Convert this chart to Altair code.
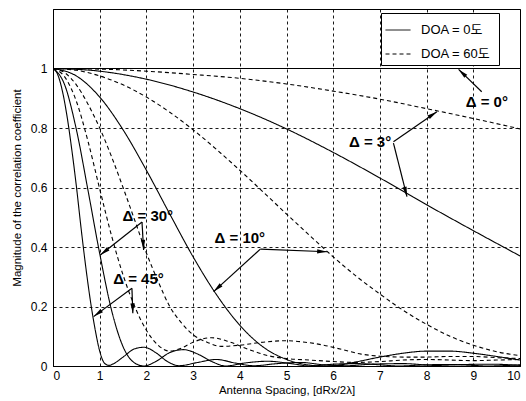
import math
import altair as alt
import pandas as pd

W, H = 467, 357
XMAX, YMAX = 10.0, 1.2
FONT = "Liberation Sans, Noto Sans CJK KR"

LAB0 = "DOA = 0도"
LAB60 = "DOA = 60도"

# ---- curves ----
d0_x = [0, 10]
d0_y = [1.0, 1.0]

d3_doa0_x = [0, 1, 2, 3, 4, 5, 6, 7, 8, 9, 10]
d3_doa0_y = [1.0, 0.991, 0.964, 0.921, 0.865, 0.797, 0.718, 0.632, 0.542, 0.455, 0.37]
d3_doa60_x = [0, 1, 2, 3, 4, 5, 6, 7, 8, 9, 10]
d3_doa60_y = [1.0, 0.998, 0.991, 0.98, 0.967, 0.948, 0.924, 0.897, 0.865, 0.832, 0.797]

d10_doa0_x = [0, 0.5, 1, 1.5, 2, 2.5, 3, 3.5, 4, 4.5, 5, 5.5, 5.8, 6.2, 6.5, 7, 7.5, 8, 8.5, 9, 9.5, 10]
d10_doa0_y = [1.0, 0.975, 0.904, 0.794, 0.658, 0.511, 0.367, 0.240, 0.137, 0.064, 0.022, 0.003, 0.0,
              0.005, 0.014, 0.03, 0.043, 0.05, 0.05, 0.043, 0.032, 0.02]
d10_doa60_x = [0, 0.5, 1, 1.5, 2, 2.5, 3, 3.5, 4, 4.5, 5, 5.5, 6, 6.5, 7, 7.5, 8, 8.5, 9, 9.5, 10]
d10_doa60_y = [1.0, 0.994, 0.975, 0.945, 0.904, 0.853, 0.794, 0.728, 0.658, 0.585, 0.511, 0.438,
               0.367, 0.301, 0.242, 0.187, 0.14, 0.1, 0.07, 0.048, 0.035]

d30_doa0_x = [0, 0.25, 0.5, 0.75, 1, 1.25, 1.5, 1.75, 1.95, 2.2, 2.5, 2.8, 3.1, 3.4, 3.7, 4.1, 4.6,
              5.1, 5.5, 6, 6.5, 7, 7.4, 8, 8.5, 9, 9.3, 10]
d30_doa0_y = [1.0, 0.945, 0.795, 0.59, 0.378, 0.19, 0.065, 0.01, 0.0, 0.015, 0.045, 0.055, 0.04,
              0.015, 0.0, 0.01, 0.016, 0.008, 0.0, 0.006, 0.008, 0.004, 0.0, 0.004, 0.005, 0.002, 0.0, 0.004]
d30_doa60_x = [0, 0.25, 0.5, 0.75, 1, 1.25, 1.5, 1.75, 2, 2.25, 2.5, 2.75, 3, 3.3, 3.6, 4, 4.5, 5,
               5.4, 5.8, 6.2, 6.6, 7, 7.5, 8, 8.5, 9, 9.5, 10]
d30_doa60_y = [1.0, 0.986, 0.945, 0.88, 0.8, 0.705, 0.6, 0.49, 0.38, 0.285, 0.2, 0.145, 0.105, 0.08,
               0.066, 0.07, 0.08, 0.085, 0.08, 0.07, 0.055, 0.04, 0.033, 0.03, 0.03, 0.032, 0.032, 0.028, 0.025]

d45_doa0_x = [0, 0.1, 0.2, 0.3, 0.4, 0.5, 0.6, 0.7, 0.8, 0.9, 1.0, 1.1, 1.2, 1.3, 1.5, 1.75, 1.95,
              2.2, 2.45, 2.7, 3.1, 3.5, 3.9, 4.3, 4.8, 5.3, 5.8, 6.3, 6.8, 7.5, 8.2, 8.8, 9.4, 10]
d45_doa0_y = [1.0, 0.98, 0.925, 0.84, 0.73, 0.605, 0.465, 0.335, 0.22, 0.125, 0.05, 0.01, 0.002,
              0.008, 0.03, 0.058, 0.063, 0.045, 0.015, 0.001, 0.012, 0.022, 0.01, 0.001, 0.008, 0.012,
              0.004, 0.001, 0.006, 0.008, 0.002, 0.005, 0.006, 0.002]
d45_doa60_x = [0, 0.25, 0.5, 0.75, 1, 1.25, 1.5, 1.75, 2, 2.25, 2.5, 2.75, 3, 3.4, 3.8, 4.2, 4.6, 5,
               5.5, 6, 6.5, 7, 7.5, 8, 8.5, 9, 9.5, 10]
d45_doa60_y = [1.0, 0.972, 0.89, 0.755, 0.595, 0.44, 0.306, 0.2, 0.12, 0.07, 0.05, 0.06, 0.08, 0.095,
               0.08, 0.055, 0.035, 0.025, 0.02, 0.015, 0.012, 0.015, 0.02, 0.022, 0.02, 0.018, 0.02, 0.022]

# ---- annotations ----
ann_text = ["Δ = 0°", "Δ = 3°", "Δ = 10°", "Δ = 30°", "Δ = 45°"]
ann_x = [9.29, 6.79, 4.0, 2.03, 1.83]
ann_y = [0.886, 0.754, 0.43, 0.503, 0.292]

arr_x0 = [9.18, 7.29, 7.29, 4.44, 4.44, 1.906, 1.906, 1.69, 1.69]
arr_y0 = [0.922, 0.754, 0.749, 0.393, 0.393, 0.484, 0.484, 0.261, 0.261]
arr_x1 = [8.685, 8.22, 7.58, 5.87, 3.44, 1.013, 1.94, 0.87, 1.71]
arr_y1 = [0.997, 0.855, 0.569, 0.384, 0.25, 0.373, 0.39, 0.166, 0.177]

series = [
    ("d0_0", LAB0, d0_x, d0_y), ("d0_60", LAB60, d0_x, d0_y),
    ("d3_0", LAB0, d3_doa0_x, d3_doa0_y), ("d3_60", LAB60, d3_doa60_x, d3_doa60_y),
    ("d10_0", LAB0, d10_doa0_x, d10_doa0_y), ("d10_60", LAB60, d10_doa60_x, d10_doa60_y),
    ("d30_0", LAB0, d30_doa0_x, d30_doa0_y), ("d30_60", LAB60, d30_doa60_x, d30_doa60_y),
    ("d45_0", LAB0, d45_doa0_x, d45_doa0_y), ("d45_60", LAB60, d45_doa60_x, d45_doa60_y),
]
rows = []
for cid, lab, xs, ys in series:
    for i, (a, b) in enumerate(zip(xs, ys)):
        rows.append({"curve": cid, "doa": lab, "i": i, "x": a, "y": b})
df = pd.DataFrame(rows)

ann_df = pd.DataFrame({"label": ann_text, "x": ann_x, "y": ann_y})
arr_df = pd.DataFrame({"x": arr_x0, "y": arr_y0, "x1": arr_x1, "y1": arr_y1})

# arrow heads: tip at the arrow end, rotated along the segment
head_rows = []
sx, sy = W / XMAX, H / YMAX
for a0, b0, a1, b1 in zip(arr_x0, arr_y0, arr_x1, arr_y1):
    dxp, dyp = (a1 - a0) * sx, (b1 - b0) * sy
    L = math.hypot(dxp, dyp)
    ux, uy = dxp / L, dyp / L
    head_rows.append({
        "x": a1 - ux * 5 / sx,
        "y": b1 - uy * 5 / sy,
        "ang": math.degrees(math.atan2(dxp, dyp)) % 360,
    })
head_df = pd.DataFrame(head_rows)

xscale = alt.Scale(domain=[0, XMAX], nice=False, zero=False)
yscale = alt.Scale(domain=[0, YMAX], nice=False, zero=False)
xaxis = alt.Axis(values=list(range(11)), format="d", title="Antenna Spacing, [dRx/2λ]",
                 grid=True, ticks=False, labelPadding=4, titlePadding=3)
yaxis = alt.Axis(values=[0, 0.2, 0.4, 0.6, 0.8, 1.0], format="~g",
                 title="Magnitude of the correlation coefficient",
                 grid=True, ticks=False, labelPadding=6, titlePadding=8)

X = lambda f: alt.X(f, scale=xscale, axis=xaxis)
Y = lambda f: alt.Y(f, scale=yscale, axis=yaxis)

lines = alt.Chart(df).mark_line(color="black", strokeWidth=1.1, interpolate="monotone", clip=True).encode(
    x=X("x:Q"),
    y=Y("y:Q"),
    detail="curve:N",
    order="i:Q",
    strokeDash=alt.StrokeDash(
        "doa:N",
        scale=alt.Scale(domain=[LAB0, LAB60], range=[[1, 0], [4, 3]]),
        legend=alt.Legend(
            title="\u00a0" * 6, titleOrient="right", titlePadding=5, titleFontSize=13,
            orient="none", legendX=328, legendY=4,
            strokeColor="black", fillColor="white", padding=4,
            symbolType="stroke", symbolSize=625, symbolStrokeWidth=1,
            symbolStrokeColor="black", labelFont=FONT, labelFontSize=13,
            labelColor="black", labelOffset=10, rowPadding=4,
        ),
    ),
)

rules = alt.Chart(arr_df).mark_rule(color="black", strokeWidth=1.2).encode(
    x=X("x:Q"), y=Y("y:Q"), x2="x1:Q", y2="y1:Q"
)

heads = alt.Chart(head_df).mark_point(
    shape="M0,-1L0.42,1L-0.42,1Z", filled=True, color="black", opacity=1, size=100, strokeWidth=0
).encode(x=X("x:Q"), y=Y("y:Q"), angle=alt.Angle("ang:Q", scale=None))

texts = alt.Chart(ann_df).mark_text(
    font=FONT, fontSize=15, fontWeight="bold", color="black", align="center", baseline="middle"
).encode(x=X("x:Q"), y=Y("y:Q"), text="label:N")

chart = alt.layer(lines, rules, heads, texts).properties(
    width=W, height=H,
    padding={"left": 53, "top": 9, "right": 6, "bottom": 35},
    autosize=alt.AutoSizeParams(type="none"),
    background="white",
).configure_view(stroke="black", strokeWidth=1).configure_axis(
    labelFont=FONT, labelFontSize=12, labelColor="black",
    titleFont=FONT, titleFontSize=11.5, titleFontWeight="normal", titleColor="black",
    domainColor="black", domainWidth=1,
    gridColor="black", gridDash=[3, 3], gridOpacity=0.9, gridWidth=1,
)

chart.save("out.html", embed_options={"renderer": "svg", "actions": False})
